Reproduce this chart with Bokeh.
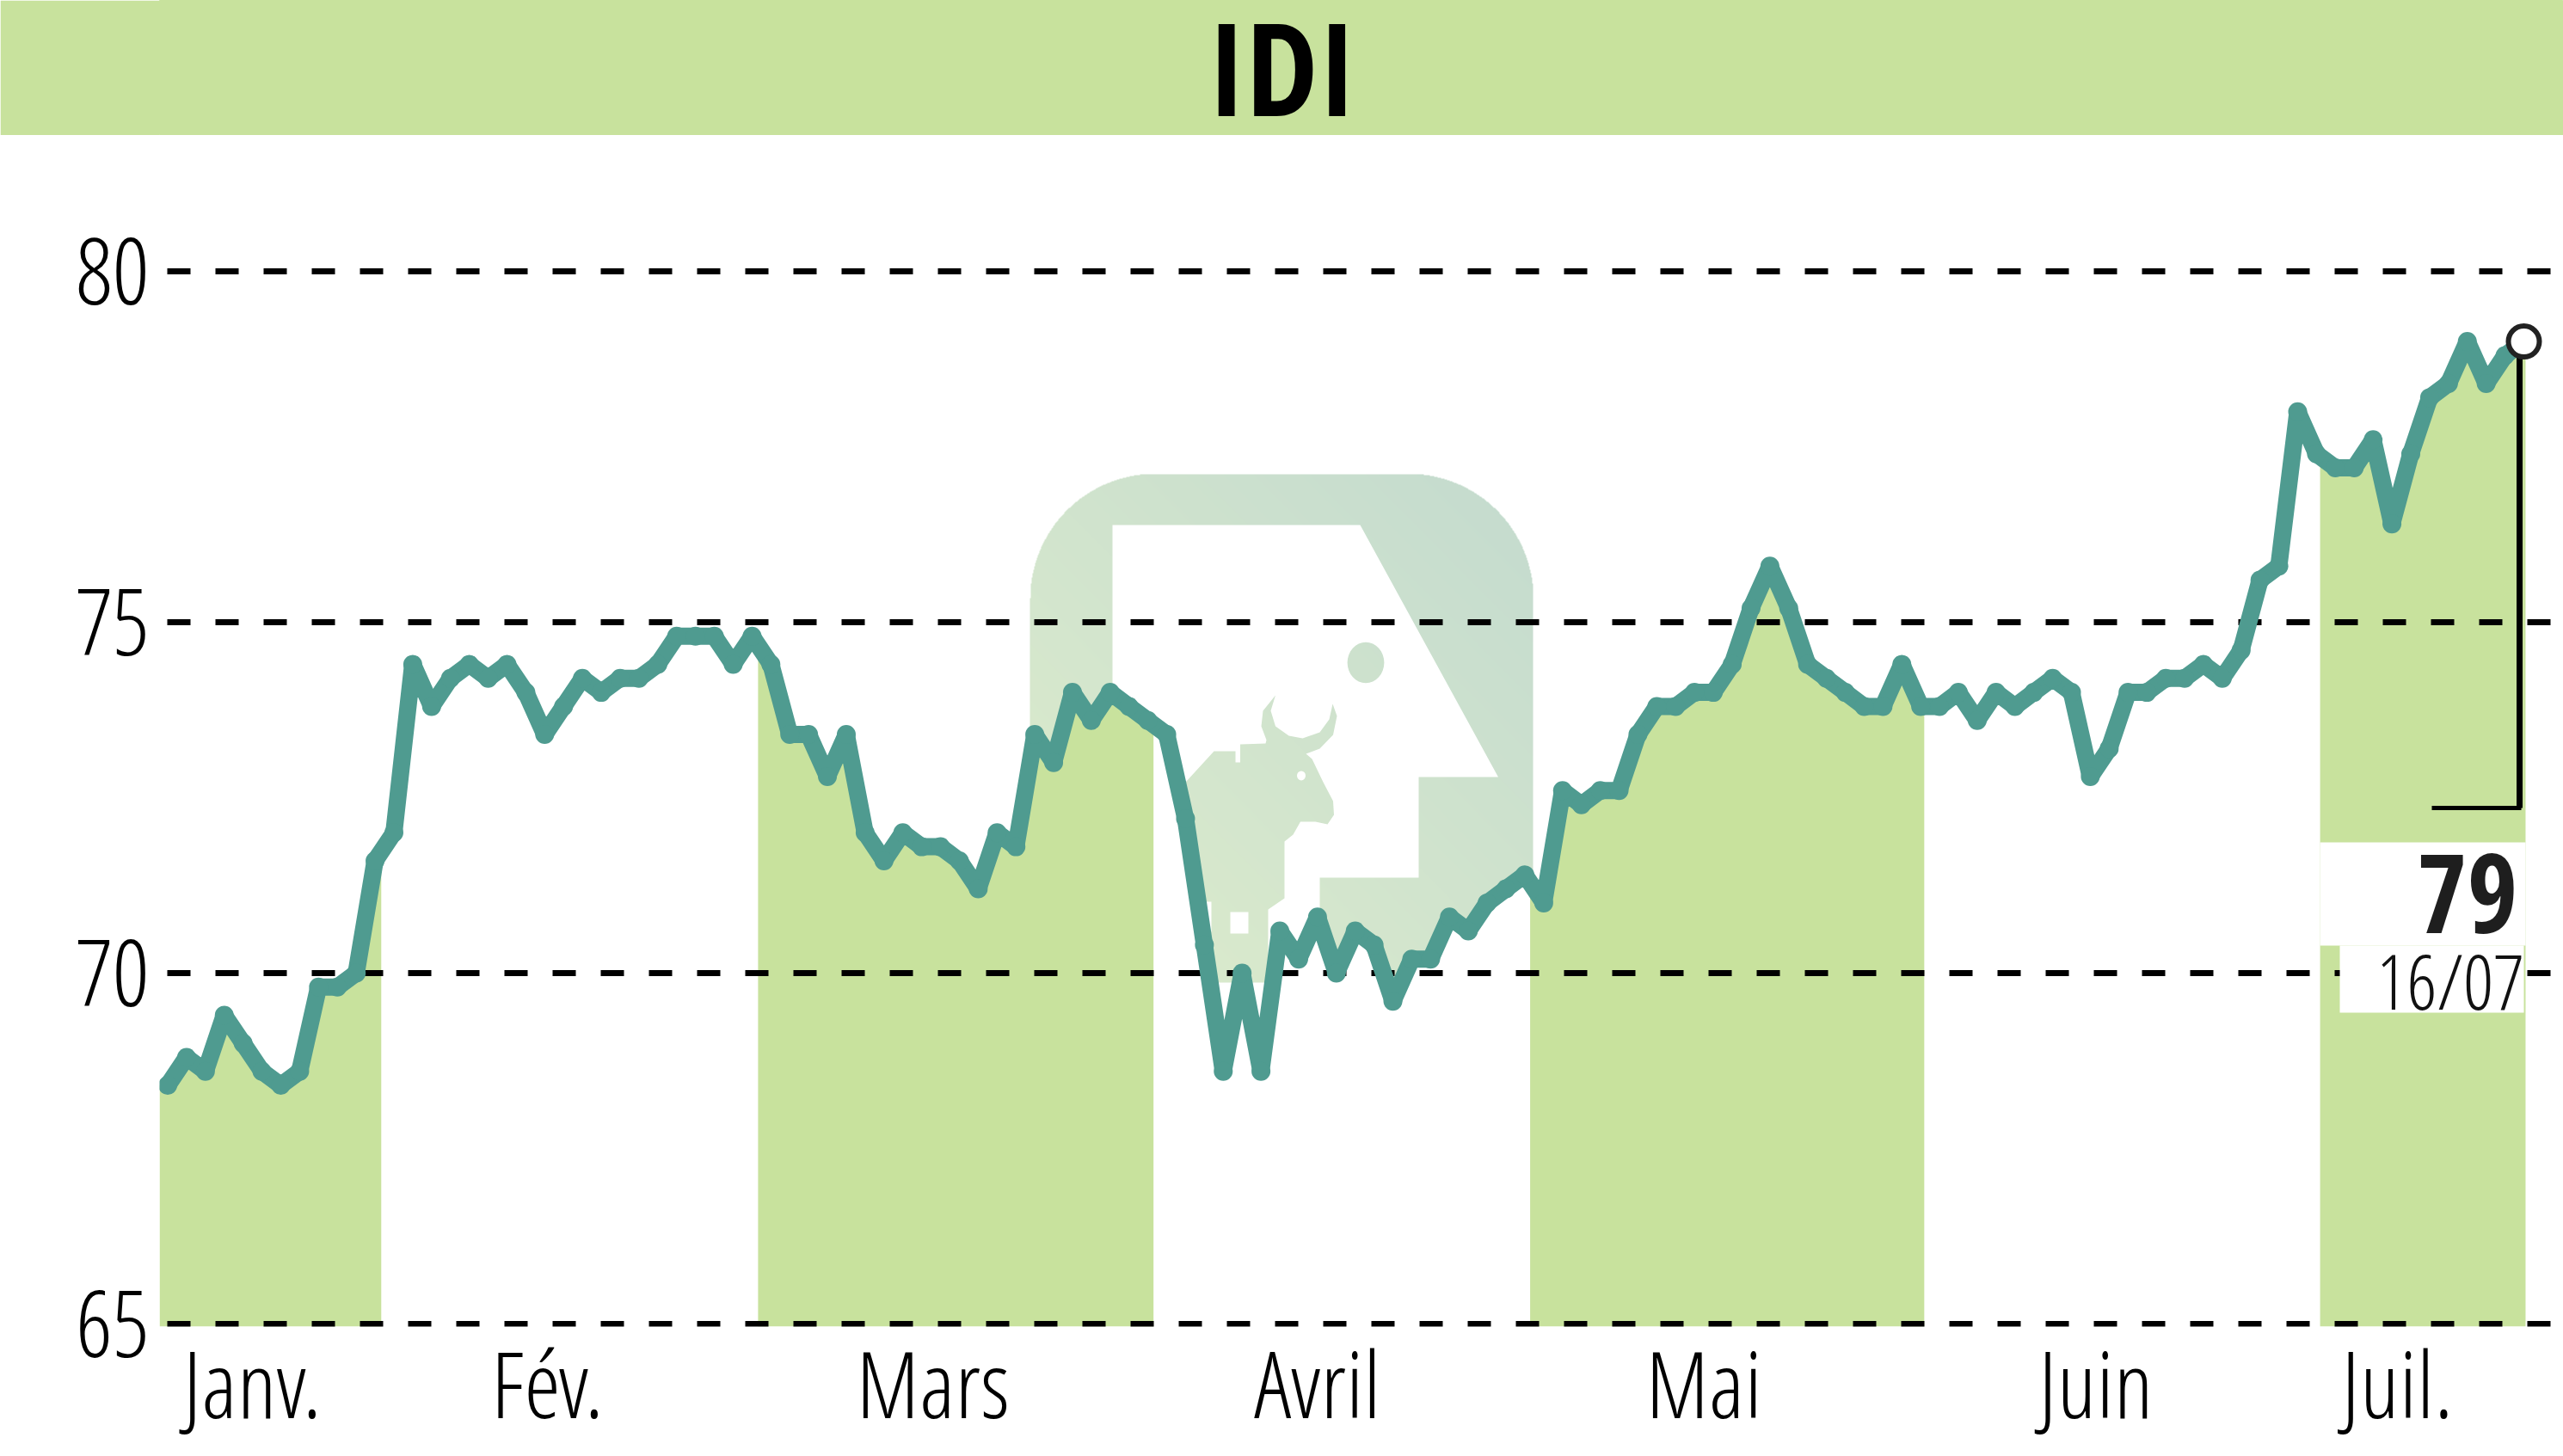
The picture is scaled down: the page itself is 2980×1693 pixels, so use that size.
import numpy as np
from bokeh.embed import file_html
from bokeh.layouts import column
from bokeh.models import FixedTicker, Label, Range1d
from bokeh.plotting import figure
from bokeh.resources import INLINE

# ---- chart data ----
TITLE = "IDI"
PRICES = [
    68.4, 68.8, 68.6, 69.4, 69.0, 68.6, 68.4, 68.6, 69.8, 69.8,
    70.0, 71.6, 72.0, 74.4, 73.8, 74.2, 74.4, 74.2, 74.4, 74.0,
    73.4, 73.8, 74.2, 74.0, 74.2, 74.2, 74.4, 74.8, 74.8, 74.8,
    74.4, 74.8, 74.4, 73.4, 73.4, 72.8, 73.4, 72.0, 71.6, 72.0,
    71.8, 71.8, 71.6, 71.2, 72.0, 71.8, 73.4, 73.0, 74.0, 73.6,
    74.0, 73.8, 73.6, 73.4, 72.2, 70.4, 68.6, 70.0, 68.6, 70.6,
    70.2, 70.8, 70.0, 70.6, 70.4, 69.6, 70.2, 70.2, 70.8, 70.6,
    71.0, 71.2, 71.4, 71.0, 72.6, 72.4, 72.6, 72.6, 73.4, 73.8,
    73.8, 74.0, 74.0, 74.4, 75.2, 75.8, 75.2, 74.4, 74.2, 74.0,
    73.8, 73.8, 74.4, 73.8, 73.8, 74.0, 73.6, 74.0, 73.8, 74.0,
    74.2, 74.0, 72.8, 73.2, 74.0, 74.0, 74.2, 74.2, 74.4, 74.2,
    74.6, 75.6, 75.8, 78.0, 77.4, 77.2, 77.2, 77.6, 76.4, 77.4,
    78.2, 78.4, 79.0, 78.4, 78.8, 79.0,
]
Y_TICKS = [65, 70, 75, 80]
MONTH_LABELS = ["Janv.", "Fév.", "Mars", "Avril", "Mai", "Juin", "Juil."]
MONTH_TICKS = [4.5, 20.15, 40.6, 61.0, 81.5, 102.3, 118.3]
MONTH_EDGES = [-0.43, 11.34, 31.32, 52.31, 72.28, 93.2, 114.19, 125.09]
LAST_VALUE = "79"
LAST_DATE = "16/07"

# ---- styling ----
GREEN = "#c8e29d"
TEAL = "#4f9b90"
COND = "Open Sans Condensed"
LIGHT = "Open Sans Condensed Light"
STEP, X0, Y65, UNIT = 21.916, 194.5, 1539.0, 81.6


def ix(px):
    return (np.asarray(px, dtype=float) - X0) / STEP


def vy(py):
    return 65 + (Y65 - np.asarray(py, dtype=float)) / UNIT


days = np.arange(len(PRICES))
prices = np.array(PRICES)

# ---- header strip ----
head = figure(width=2980, height=157, output_backend="svg", toolbar_location=None,
              x_range=Range1d(185, 2980), y_range=Range1d(0, 157),
              x_axis_location=None, y_axis_location=None,
              min_border=0, min_border_left=185,
              background_fill_color=GREEN, border_fill_color=GREEN)
head.outline_line_color = GREEN
head.grid.visible = False
head.add_layout(Label(x=1490, y=81, text=TITLE, text_align="center",
                      text_baseline="alphabetic", text_font=COND, text_font_style="bold",
                      text_font_size="150px", text_color="black"))

# ---- main chart ----
p = figure(
    width=2980, height=1536, output_backend="svg", toolbar_location=None,
    x_range=Range1d(float(ix(185)), float(ix(2980))),
    y_range=Range1d(float(vy(1542)), float(vy(157))),
    min_border_left=185, min_border_right=0, min_border_top=0, min_border_bottom=151,
    background_fill_color="white", border_fill_color="white",
)
p.outline_line_color = None

# ---- watermark logo ----
LX0, LX1, LY0, LY1, LR = 1197, 1782, 551, 1142, 145
gx, gy = np.meshgrid(np.arange(LX0, LX1, 1.0), np.arange(LY1, LY0, -1.0))
t = ((gx - LX0) / (LX1 - LX0) + (LY1 - gy) / (LY1 - LY0)) / 2
low, high = np.array([222, 237, 204]), np.array([196, 219, 207])
dx = np.maximum(np.maximum(LX0 + LR - gx, gx - (LX1 - LR)), 0)
dy = np.maximum(np.maximum(LY0 + LR - gy, gy - (LY1 - LR)), 0)
inside = dx * dx + dy * dy <= LR * LR
img = np.zeros(gx.shape, dtype=np.uint32)
view = img.view(dtype=np.uint8).reshape((*gx.shape, 4))
for k in range(3):
    view[..., k] = (low[k] + (high[k] - low[k]) * t).astype(np.uint8)
view[..., 3] = np.where(inside, 255, 0)
p.image_rgba(image=[img], x=float(ix(LX0)), y=float(vy(LY1)),
             dw=float(ix(LX1) - ix(LX0)), dh=float(vy(LY0) - vy(LY1)), level="image")

HEAD = [(1293, 610), (1581, 610), (1741.5, 903), (1649, 903), (1649, 1020),
        (1534, 1020), (1534, 1150), (1293, 1150)]
BULL = [(1378, 909), (1411, 873), (1436, 873), (1436, 886), (1441.5, 886), (1441.5, 865),
        (1471, 864), (1472, 860), (1466, 844), (1468, 826), (1482.5, 808), (1477, 826),
        (1482.5, 844), (1498, 855), (1514, 858), (1534, 851), (1545, 836), (1549, 818),
        (1554, 832), (1549.5, 854), (1534, 870), (1518, 876), (1525, 882), (1538, 909),
        (1549.5, 931), (1550.5, 947), (1543, 958), (1529, 955), (1511.5, 955), (1503, 970),
        (1493, 978), (1493, 1044), (1474, 1057), (1474, 1146), (1378, 1146)]
th = np.linspace(0, 2 * np.pi, 32, endpoint=False)
EYE = list(zip(1587.5 + 21.4 * np.cos(th), 770 + 23.7 * np.sin(th)))


def poly_x(points):
    return [float(ix(a)) for a, _ in points]


def poly_y(points):
    return [float(vy(b)) for _, b in points]


p.multi_polygons(
    xs=[[[poly_x(HEAD), poly_x(BULL), poly_x(EYE)]]],
    ys=[[[poly_y(HEAD), poly_y(BULL), poly_y(EYE)]]],
    fill_color="white", line_color=None, level="image",
)
SPOTS = [(1430, 1451, 1060, 1085), (1396, 1408, 1048, 1083)]
for a, b, c, d in SPOTS:
    p.quad(left=float(ix(a)), right=float(ix(b)), bottom=float(vy(d)), top=float(vy(c)),
           fill_color="white", line_color=None, level="image")
p.ellipse(x=float(ix(1512.5)), y=float(vy(901.4)), width=10 / STEP, height=11 / UNIT,
          fill_color="white", line_color=None, level="image")

# ---- alternate month bands under the curve (green / white) ----
for m in range(len(MONTH_LABELS)):
    a, b = MONTH_EDGES[m], MONTH_EDGES[m + 1]
    keep = (days > a) & (days < b)
    bx = np.concatenate(([a], days[keep], [b]))
    by = np.interp(bx, days, prices)
    p.varea(x=bx, y1=float(vy(1542)), y2=by,
            fill_color=GREEN if m % 2 == 0 else "white", level="image")

# ---- axes and grid ----
p.xgrid.visible = False
p.ygrid.ticker = FixedTicker(ticks=Y_TICKS)
p.ygrid.grid_line_color = "black"
p.ygrid.grid_line_width = 7
p.ygrid.grid_line_dash = [27, 29]
p.ygrid.grid_line_dash_offset = 47

p.yaxis.ticker = FixedTicker(ticks=Y_TICKS)
p.xaxis.ticker = FixedTicker(ticks=MONTH_TICKS)
p.xaxis.major_label_overrides = dict(zip(MONTH_TICKS, MONTH_LABELS))
for ax in (p.xaxis[0], p.yaxis[0]):
    ax.axis_line_color = None
    ax.major_tick_line_color = None
    ax.minor_tick_line_color = None
    ax.major_tick_out = 0
    ax.major_tick_in = 0
    ax.major_label_text_font = LIGHT
p.yaxis.major_label_text_font_size = "107px"
p.yaxis.major_label_text_color = "black"
p.yaxis.major_label_standoff = 12
p.xaxis.major_label_text_font_size = "108px"
p.xaxis.major_label_text_color = "black"
p.xaxis.major_label_standoff = -9

# ---- last-value callout ----
p.quad(left=MONTH_EDGES[-2], right=MONTH_EDGES[-1], bottom=float(vy(1099)), top=float(vy(979)),
       fill_color="white", line_color=None)
p.quad(left=float(ix(2720)), right=float(ix(2934)), bottom=float(vy(1177)), top=float(vy(1099)),
       fill_color="white", line_color=None)

p.line(days, prices, line_color=TEAL, line_width=20, line_join="bevel")
p.scatter(days[:-1], prices[:-1], marker="circle", size=22, fill_color=TEAL, line_color=None)

p.line([float(ix(2827)), float(ix(2931))], [float(vy(939))] * 2, line_color="black", line_width=5)
p.line([float(ix(2929))] * 2, [float(vy(939)), PRICES[-1]], line_color="black", line_width=7)
p.scatter([days[-1]], [PRICES[-1]], marker="circle", size=36, fill_color="white",
          line_color="#222222", line_width=6)

p.add_layout(Label(x=float(ix(2927)), y=float(vy(1038)), text=LAST_VALUE, text_align="right",
                   text_baseline="alphabetic", text_font=COND, text_font_style="bold",
                   text_font_size="127px", text_color="#1e1e1e"))
p.add_layout(Label(x=float(ix(2934)), y=float(vy(1139)), text=LAST_DATE, text_align="right",
                   text_baseline="alphabetic", text_font=LIGHT,
                   text_font_size="88px", text_color="#111111"))

open("out.html", "w").write(file_html(column(head, p, spacing=0), INLINE))
